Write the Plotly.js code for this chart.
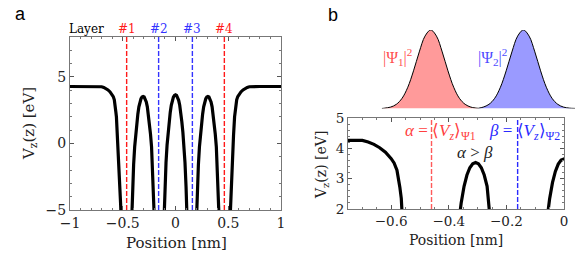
<!DOCTYPE html>
<html>
<head>
<meta charset="utf-8">
<script src="https://cdn.plot.ly/plotly-3.0.1.min.js"></script>
<style>html,body{margin:0;padding:0;background:#fff}#chart{width:582px;height:261px}</style>
</head>
<body>
<div id="chart"></div>
<script>
// ---- potential V_z(z) [eV] vs position [nm] (null = curve leaves the plot through the wells)
var potX = [-1.0,-0.9,-0.8,-0.75,-0.72,-0.70,-0.68,-0.66,-0.64,-0.62,-0.60,-0.59,-0.58,-0.575,-0.57,-0.565,-0.56,-0.55,-0.54,-0.53,-0.52,-0.51,-0.50,
  null,
  -0.427,-0.417,-0.407,-0.397,-0.387,-0.377,-0.367,-0.357,-0.347,-0.337,-0.327,-0.317,-0.307,-0.297,-0.287,-0.277,-0.267,-0.257,-0.247,-0.237,-0.227,-0.217,-0.207,-0.197,-0.187,
  null,
  -0.12,-0.11,-0.10,-0.09,-0.08,-0.07,-0.06,-0.05,-0.04,-0.03,-0.02,-0.01,0,0.01,0.02,0.03,0.04,0.05,0.06,0.07,0.08,0.09,0.10,0.11,0.12,
  null,
  0.187,0.197,0.207,0.217,0.227,0.237,0.247,0.257,0.267,0.277,0.287,0.297,0.307,0.317,0.327,0.337,0.347,0.357,0.367,0.377,0.387,0.397,0.407,0.417,0.427,
  null,
  0.50,0.51,0.52,0.53,0.54,0.55,0.56,0.565,0.57,0.575,0.58,0.59,0.60,0.62,0.64,0.66,0.68,0.70,0.72,0.75,0.8,0.9,1.0];
var potY = [4.28,4.28,4.28,4.28,4.27,4.26,4.21,4.13,4.02,3.87,3.66,3.52,3.28,3.05,2.72,2.35,2.0,0.6,-0.9,-2.6,-4.6,-6.8,-9,
  null,
  -8.5,-5.7,-3.4,-1.6,-0.25,0.7,1.5,2.2,2.75,3.12,3.36,3.49,3.53,3.49,3.36,3.12,2.75,2.2,1.5,0.7,-0.25,-1.6,-3.4,-5.7,-8.5,
  null,
  -8.3,-5.5,-3.25,-1.45,-0.12,0.83,1.63,2.33,2.87,3.24,3.48,3.61,3.65,3.61,3.48,3.24,2.87,2.33,1.63,0.83,-0.12,-1.45,-3.25,-5.5,-8.3,
  null,
  -8.5,-5.7,-3.4,-1.6,-0.25,0.7,1.5,2.2,2.75,3.12,3.36,3.49,3.53,3.49,3.36,3.12,2.75,2.2,1.5,0.7,-0.25,-1.6,-3.4,-5.7,-8.5,
  null,
  -9,-6.8,-4.6,-2.6,-0.9,0.6,2.0,2.35,2.72,3.05,3.28,3.52,3.66,3.87,4.02,4.13,4.21,4.26,4.27,4.28,4.28,4.28,4.28];

// ---- layer positions [nm]
var layerPos = [-0.463, -0.16, 0.16, 0.463];
var layerLabels = ['#1', '#2', '#3', '#4'];
var layerColors = ['#ff1a1a', '#3333ff', '#3333ff', '#ff1a1a'];

// ---- expectation values (panel b)
var alphaPos = -0.46, betaPos = -0.161;

// ---- |Psi|^2 densities (arbitrary units)
var psi1X = [-0.635,-0.624,-0.604,-0.584,-0.564,-0.544,-0.524,-0.504,-0.484,-0.464,-0.444,-0.424,-0.404,-0.384,-0.364,-0.344,-0.324,-0.304,-0.298];
var psi1Y = [0,0.005,0.018,0.053,0.130,0.271,0.480,0.721,0.922,1,0.922,0.721,0.480,0.271,0.130,0.053,0.018,0.005,0.003];
var psi2X = [-0.298,-0.281,-0.261,-0.241,-0.221,-0.201,-0.181,-0.161,-0.141,-0.121,-0.101,-0.081,-0.061,-0.041,-0.021,-0.001,0.019,0.039];
var psi2Y = [0.003,0.018,0.053,0.130,0.271,0.480,0.721,0.922,1,0.922,0.721,0.480,0.271,0.130,0.053,0.018,0.005,0.001];

var W = 582, H = 261;
function px(x){ return x / W; }
function py(y){ return 1 - y / H; }

var serif = 'DejaVu Serif, serif';
var math = 'Liberation Serif, serif';

var traces = [
  {x: potX, y: potY, xaxis: 'x', yaxis: 'y', mode: 'lines', connectgaps: false,
   line: {color: '#000', width: 3.2}, hoverinfo: 'skip'},
  {x: potX, y: potY, xaxis: 'x2', yaxis: 'y2', mode: 'lines', connectgaps: false,
   line: {color: '#000', width: 3.2}, hoverinfo: 'skip'},
  {x: psi1X, y: psi1Y, xaxis: 'x3', yaxis: 'y3', mode: 'lines', fill: 'tozeroy',
   fillcolor: '#ff9a9a', line: {color: '#000', width: 1, shape: 'spline'}, hoverinfo: 'skip'},
  {x: psi2X, y: psi2Y, xaxis: 'x3', yaxis: 'y3', mode: 'lines', fill: 'tozeroy',
   fillcolor: '#9a9aff', line: {color: '#000', width: 1, shape: 'spline'}, hoverinfo: 'skip'}
];

var axCommon = {
  showgrid: false, zeroline: false, showline: true, mirror: 'ticks',
  linecolor: '#777', linewidth: 1, ticks: 'inside', ticklen: 4, tickwidth: 1, tickcolor: '#555',
  fixedrange: true
};
function ax(extra){ return Object.assign({}, axCommon, extra); }

var shapes = [];
layerPos.forEach(function(p, i){
  shapes.push({type: 'line', xref: 'x', yref: 'y domain', x0: p, x1: p, y0: 0, y1: 1,
    line: {color: layerColors[i], width: 1.4, dash: '5px,2px'}});
});
shapes.push({type: 'line', xref: 'x2', yref: 'y2 domain', x0: alphaPos, x1: alphaPos, y0: 0, y1: 1,
  line: {color: '#ff5a5a', width: 1.4, dash: '5px,2px'}});
shapes.push({type: 'line', xref: 'x2', yref: 'y2 domain', x0: betaPos, x1: betaPos, y0: 0, y1: 1,
  line: {color: '#2a2aff', width: 1.4, dash: '5px,2px'}});

function note(text, x, y, font, extra){
  return Object.assign({text: text, x: px(x), y: py(y), xref: 'paper', yref: 'paper',
    xanchor: 'center', yanchor: 'middle', showarrow: false, font: font}, extra || {});
}

var annotations = [
  note('a', 21, 14, {family: 'Liberation Sans, Arial, sans-serif', size: 18, color: '#000'}),
  note('b', 333, 15, {family: 'Liberation Sans, Arial, sans-serif', size: 18, color: '#000'}),
  note('Layer', 86, 29, {family: serif, size: 12, color: '#000'}),
  note('Position [nm]', 176, 243, {family: serif, size: 15, color: '#222'}),
  note('V<sub>z</sub>(z) [eV]', 29, 124, {family: serif, size: 15, color: '#222'}, {textangle: -90}),
  note('Position [nm]', 456, 240, {family: serif, size: 14, color: '#222'}),
  note('V<sub>z</sub>(z) [eV]', 322, 165, {family: serif, size: 14, color: '#222'}, {textangle: -90}),
  note('|Ψ<sub>1</sub>|<sup>2</sup>', 397, 57, {family: math, size: 16, color: '#ff5050'}),
  note('|Ψ<sub>2</sub>|<sup>2</sup>', 492, 57, {family: math, size: 16, color: '#4d4dff'}),
  note('<i>α</i> = ⟨<i>V<sub>z</sub></i>⟩<sub>Ψ1</sub>', 440, 132, {family: math, size: 17, color: '#ff4040'}),
  note('<i>β</i> = ⟨<i>V<sub>z</sub></i>⟩<sub>Ψ2</sub>', 524, 132, {family: math, size: 17, color: '#2a2aff'}),
  note('<i>α</i> &gt; <i>β</i>', 475, 152, {family: math, size: 17, color: '#222'})
];
layerPos.forEach(function(p, i){
  annotations.push({text: layerLabels[i], x: p, xref: 'x', y: py(29), yref: 'paper',
    xanchor: 'center', yanchor: 'middle', showarrow: false,
    font: {family: serif, size: 12, color: layerColors[i]}});
});

var layout = {
  width: W, height: H, margin: {l: 0, r: 0, t: 0, b: 0},
  paper_bgcolor: '#fff', plot_bgcolor: '#fff', showlegend: false,
  font: {family: serif, color: '#222'},
  xaxis: ax({domain: [px(70), px(281)], range: [-1, 1], dtick: 0.5,
    minor: {ticks: 'inside', ticklen: 2, dtick: 0.1, tickcolor: '#777'},
    tickfont: {family: serif, size: 14, color: '#222'}, anchor: 'y'}),
  yaxis: ax({domain: [py(210), py(37)], range: [-5, 8], tickvals: [-5, 0, 5],
    minor: {ticks: 'inside', ticklen: 2, dtick: 1, tickcolor: '#777'},
    tickfont: {family: serif, size: 14, color: '#222'}, anchor: 'x'}),
  xaxis2: ax({domain: [px(348), px(564)], range: [-0.75, 0], tickvals: [-0.6, -0.4, -0.2, 0],
    ticktext: ['−0.6', '−0.4', '−0.2', '0'],
    minor: {ticks: 'inside', ticklen: 2, dtick: 0.05, tickcolor: '#777'},
    tickfont: {family: serif, size: 13.5, color: '#222'}, anchor: 'y2'}),
  yaxis2: ax({domain: [py(209), py(118)], range: [2, 5], dtick: 1,
    minor: {ticks: 'inside', ticklen: 2, dtick: 0.2, tickcolor: '#777'},
    tickfont: {family: serif, size: 13.5, color: '#222'}, anchor: 'x2'}),
  xaxis3: {domain: [px(381.7), px(575)], range: [-0.635, 0.039], visible: false, fixedrange: true, anchor: 'y3'},
  yaxis3: {domain: [py(108.5), py(30)], range: [0, 1], visible: false, fixedrange: true, anchor: 'x3'},
  shapes: shapes,
  annotations: annotations
};

Plotly.newPlot('chart', traces, layout, {staticPlot: true, displayModeBar: false});
</script>
</body>
</html>
